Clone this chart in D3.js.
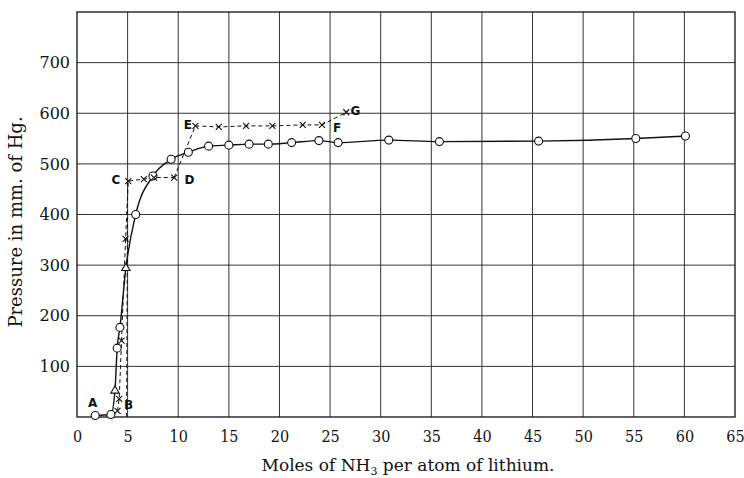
<!DOCTYPE html>
<html>
<head>
<meta charset="utf-8">
<script src="https://cdn.jsdelivr.net/npm/d3@7"></script>
<style>
  body { margin: 0; background: #fff; }
  svg { display: block; }
</style>
</head>
<body>
<div id="chart"></div>
<script>
// pressure curve (open circles)
var circleX = [1.8, 3.35, 3.97, 4.24, 5.8, 7.5, 9.3, 11.0, 13.0, 15.0, 17.0, 18.9, 21.2, 23.9, 25.8, 30.8, 35.8, 45.6, 55.2, 60.1];
var circleY = [3, 5, 136, 177, 400, 476, 509, 523, 535, 537, 539, 539, 542, 546, 542, 547, 544, 545, 550, 555];
// triangle points on the curve
var triX = [3.75, 4.83];
var triY = [52, 294];
// dashed x-mark series B-C-D
var crossX = [4.0, 4.17, 4.4, 4.8, 5.06, 6.6, 7.6, 9.6];
var crossY = [12, 36, 151, 352, 466, 470, 473, 473];
// dashed x-mark series E-F-G
var cross2X = [11.7, 14.0, 16.7, 19.3, 22.3, 24.2, 26.6];
var cross2Y = [575, 573, 575, 575, 577, 577, 602];
// letter labels
var letters = ["A", "B", "C", "D", "E", "F", "G"];
var letterX = [1.55, 5.1, 3.85, 11.1, 10.95, 25.7, 27.5];
var letterY = [28, 24, 469, 469, 578, 571, 605];

var xTicks = d3.range(0, 66, 5);
var yTicks = [100, 200, 300, 400, 500, 600, 700];

var width = 744, height = 478;
var margin = {left: 77, right: 9, top: 12, bottom: 61};

var svg = d3.select("#chart").append("svg")
    .attr("width", width)
    .attr("height", height);

var x = d3.scaleLinear().domain([0, 65]).range([margin.left, width - margin.right]);
var y = d3.scaleLinear().domain([0, 800]).range([height - margin.bottom, margin.top]);

var g = svg.append("g");

// grid
g.selectAll(".vgrid")
    .data(d3.range(5, 65, 5))
    .enter().append("line")
    .attr("x1", d => x(d)).attr("x2", d => x(d))
    .attr("y1", y(0)).attr("y2", y(800))
    .style("stroke", "#333").style("stroke-width", 1);

g.selectAll(".hgrid")
    .data(yTicks)
    .enter().append("line")
    .attr("x1", x(0)).attr("x2", x(65))
    .attr("y1", d => y(d)).attr("y2", d => y(d))
    .style("stroke", "#333").style("stroke-width", 1);

// frame
g.append("rect")
    .attr("x", x(0)).attr("y", y(800))
    .attr("width", x(65) - x(0)).attr("height", y(0) - y(800))
    .style("fill", "none").style("stroke", "#111").style("stroke-width", 1.3);

// axes (labels only)
var xAxis = svg.append("g")
    .attr("transform", "translate(0," + y(0) + ")")
    .call(d3.axisBottom(x).tickValues(xTicks).tickSize(0).tickPadding(14));
var yAxis = svg.append("g")
    .attr("transform", "translate(" + x(0) + ",0)")
    .call(d3.axisLeft(y).tickValues(yTicks).tickSize(0).tickPadding(7));
xAxis.select(".domain").remove();
yAxis.select(".domain").remove();
xAxis.selectAll("text")
    .style("font-family", "'DejaVu Serif Condensed', 'DejaVu Serif', serif")
    .style("font-size", "16px")
    .style("fill", "#111");
yAxis.selectAll("text")
    .style("font-family", "'DejaVu Serif', serif")
    .style("font-size", "16px")
    .style("fill", "#111");

// axis titles
svg.append("text")
    .attr("x", (x(0) + x(65)) / 2 + 2).attr("y", 471)
    .attr("text-anchor", "middle")
    .style("font-family", "'DejaVu Serif', serif")
    .style("font-size", "17px").style("fill", "#111")
    .html("Moles of NH<tspan dy='4' font-size='11px'>3</tspan><tspan dy='-4'> per atom of lithium.</tspan>");

svg.append("text")
    .attr("transform", "translate(22,222) rotate(-90)")
    .attr("text-anchor", "middle")
    .style("font-family", "'DejaVu Serif', serif")
    .style("font-size", "18px").style("fill", "#111")
    .text("Pressure in mm. of Hg.");

// data
var circles = circleX.map((d, i) => [d, circleY[i]]);
var tris = triX.map((d, i) => [d, triY[i]]);
var crosses = crossX.map((d, i) => [d, crossY[i]]);
var crosses2 = cross2X.map((d, i) => [d, cross2Y[i]]);

var curvePts = circles.concat(tris).sort((a, b) => a[0] - b[0]);
var line = d3.line().x(d => x(d[0])).y(d => y(d[1]));

// B-C vertical dashed line
g.append("path")
    .datum([[4.9, 0], [5.0, crossY[4]]])
    .attr("d", line)
    .style("fill", "none").style("stroke", "#111")
    .style("stroke-width", 1).style("stroke-dasharray", "4,3");

// dashed series
g.append("path")
    .datum(crosses)
    .attr("d", line)
    .style("fill", "none").style("stroke", "#111")
    .style("stroke-width", 1).style("stroke-dasharray", "4,3");

g.append("path")
    .datum([crosses[crosses.length - 1], crosses2[0]])
    .attr("d", line)
    .style("fill", "none").style("stroke", "#111")
    .style("stroke-width", 1).style("stroke-dasharray", "4,3");

g.append("path")
    .datum(crosses2)
    .attr("d", line)
    .style("fill", "none").style("stroke", "#111")
    .style("stroke-width", 1).style("stroke-dasharray", "4,3");

// smooth curve
g.append("path")
    .datum(curvePts)
    .attr("d", line.curve(d3.curveMonotoneX))
    .style("fill", "none").style("stroke", "#111")
    .style("stroke-width", 1.4);

// markers
g.selectAll(".circ")
    .data(circles)
    .enter().append("circle")
    .attr("cx", d => x(d[0])).attr("cy", d => y(d[1]))
    .attr("r", 4)
    .style("fill", "#fff").style("stroke", "#111").style("stroke-width", 1.1);

g.selectAll(".tri")
    .data(tris)
    .enter().append("path")
    .attr("transform", d => "translate(" + x(d[0]) + "," + y(d[1]) + ")")
    .attr("d", d3.symbol().type(d3.symbolTriangle).size(30))
    .style("fill", "#fff").style("stroke", "#111").style("stroke-width", 1.1);

var crossPath = "M-3,-3L3,3M-3,3L3,-3";
g.selectAll(".cross")
    .data(crosses.concat(crosses2))
    .enter().append("path")
    .attr("transform", d => "translate(" + x(d[0]) + "," + y(d[1]) + ")")
    .attr("d", crossPath)
    .style("fill", "none").style("stroke", "#111").style("stroke-width", 1.1);

// letter labels
g.selectAll(".letter")
    .data(letters)
    .enter().append("text")
    .attr("x", (d, i) => x(letterX[i]))
    .attr("y", (d, i) => y(letterY[i]))
    .attr("dy", "0.35em")
    .attr("text-anchor", "middle")
    .style("font-family", "'DejaVu Sans', sans-serif")
    .style("font-weight", "bold")
    .style("font-size", "12px")
    .style("fill", "#111")
    .text(d => d);
</script>
</body>
</html>
